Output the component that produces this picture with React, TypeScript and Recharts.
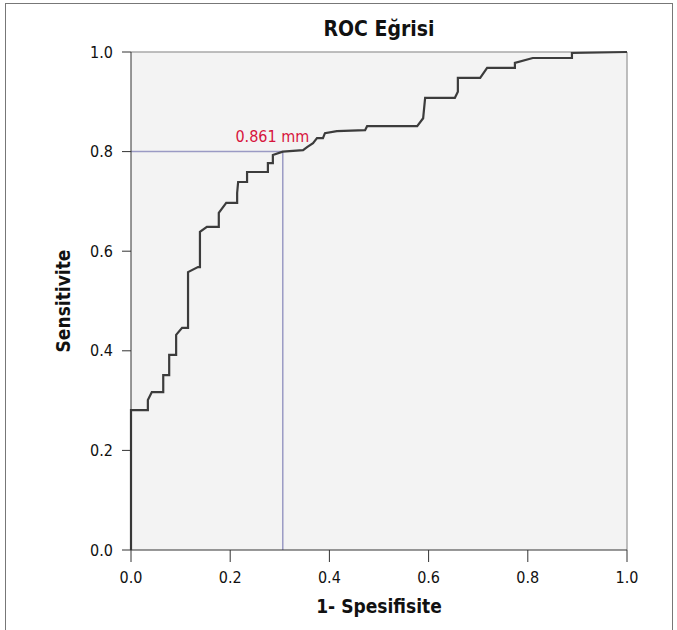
import {
  CartesianGrid,
  Label,
  Line,
  LineChart,
  ReferenceDot,
  ReferenceLine,
  XAxis,
  YAxis,
} from 'recharts'

// ROC step curve (1 - specificity, sensitivity)
const fpr = [
  0, 0, 0.034, 0.034, 0.042, 0.065, 0.065, 0.077, 0.077, 0.091, 0.091, 0.103, 0.115, 0.115,
  0.135, 0.139, 0.139, 0.153, 0.177, 0.177, 0.192, 0.214, 0.214, 0.216, 0.234, 0.234, 0.276,
  0.276, 0.286, 0.286, 0.306, 0.347, 0.355, 0.367, 0.375, 0.387, 0.391, 0.415, 0.472, 0.476,
  0.577, 0.589, 0.593, 0.653, 0.659, 0.659, 0.704, 0.718, 0.774, 0.774, 0.81, 0.889, 0.889, 1,
]
const tpr = [
  0, 0.281, 0.281, 0.301, 0.317, 0.317, 0.351, 0.351, 0.392, 0.392, 0.432, 0.446, 0.446, 0.558,
  0.568, 0.568, 0.639, 0.649, 0.649, 0.677, 0.697, 0.697, 0.717, 0.739, 0.739, 0.759, 0.759,
  0.777, 0.777, 0.793, 0.8, 0.803, 0.809, 0.817, 0.827, 0.827, 0.837, 0.841, 0.843, 0.851,
  0.851, 0.867, 0.908, 0.908, 0.92, 0.948, 0.948, 0.968, 0.968, 0.978, 0.988, 0.988, 0.998, 1,
]
const ticks = [0, 0.2, 0.4, 0.6, 0.8, 1]
const cutX = 0.306
const cutY = 0.8
const cutLabel = '0.861 mm'

const font = '"DejaVu Sans Condensed", "Liberation Sans Narrow", "Roboto", sans-serif'

export default function App() {
  const data = fpr.map((x, i) => ({ x, y: tpr[i] }))
  const tick = { fill: '#111', fontSize: 16, fontFamily: font }

  return (
    <div style={{ position: 'absolute', left: 0, top: 0, width: 677, height: 630, background: '#fff', overflow: 'hidden' }}>
      <div
        style={{
          position: 'absolute',
          left: 5,
          top: 3,
          width: 666,
          height: 660,
          border: '1px solid #777',
        }}
      />
      <div
        style={{
          position: 'absolute',
          left: 131,
          width: 496,
          top: 17,
          textAlign: 'center',
          fontFamily: font,
          fontWeight: 'bold',
          fontSize: 21,
          color: '#111',
        }}
      >
        ROC Eğrisi
      </div>
      <LineChart
        width={677}
        height={630}
        data={data}
        margin={{ top: 52, right: 50, bottom: 40, left: 71 }}
        style={{ position: 'absolute', left: 0, top: 0 }}
      >
        <CartesianGrid horizontal={false} vertical={false} fill="#f3f3f3" />
        <ReferenceLine y={1} stroke="#a8a8a8" strokeWidth={1.5} />
        <ReferenceLine x={1} stroke="#a8a8a8" strokeWidth={1.5} />
        <XAxis
          dataKey="x"
          type="number"
          domain={[0, 1]}
          ticks={ticks}
          tickFormatter={(v: number) => v.toFixed(1)}
          stroke="#333"
          tick={tick}
          tickSize={12}
          tickMargin={10}
          height={40}
        >
          <Label
            value="1- Spesifisite"
            position="bottom"
            offset={10}
            style={{ fontFamily: font, fontWeight: 'bold', fontSize: 19, fill: '#111' }}
          />
        </XAxis>
        <YAxis
          dataKey="y"
          type="number"
          domain={[0, 1]}
          ticks={ticks}
          tickFormatter={(v: number) => v.toFixed(1)}
          stroke="#333"
          tick={tick}
          tickSize={9}
          tickMargin={9}
          width={60}
        >
          <Label
            value="Sensitivite"
            angle={-90}
            position="left"
            offset={8}
            style={{ fontFamily: font, fontWeight: 'bold', fontSize: 19, fill: '#111', textAnchor: 'middle' }}
          />
        </YAxis>
        <ReferenceLine
          segment={[
            { x: 0, y: cutY },
            { x: cutX, y: cutY },
          ]}
          stroke="#9a9ac4"
          strokeWidth={1.5}
        />
        <ReferenceLine
          segment={[
            { x: cutX, y: 0 },
            { x: cutX, y: cutY },
          ]}
          stroke="#9a9ac4"
          strokeWidth={1.5}
        />
        <Line
          dataKey="y"
          type="linear"
          stroke="#3c3c3c"
          strokeWidth={2.2}
          dot={false}
          isAnimationActive={false}
        />
        <ReferenceDot
          x={0.285}
          y={cutY}
          r={0}
          fill="none"
          stroke="none"
          label={{
            value: cutLabel,
            position: 'top',
            offset: 10,
            fill: '#d7143c',
            fontSize: 16,
            fontFamily: font,
          }}
        />
      </LineChart>
    </div>
  )
}
